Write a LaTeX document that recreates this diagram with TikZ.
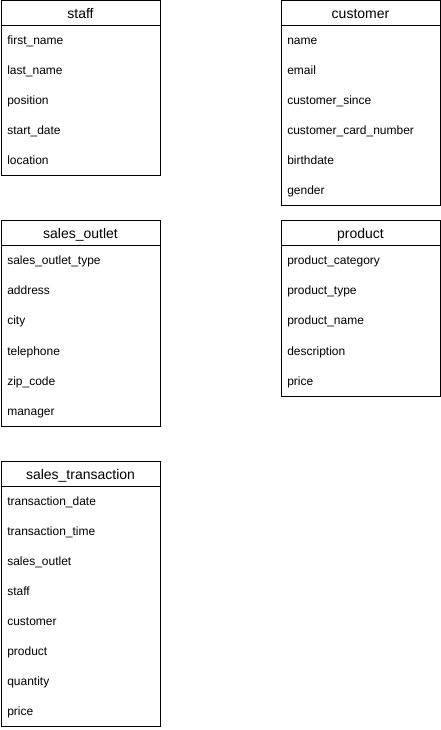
\documentclass[tikz,border=0pt]{standalone}
\usepackage{fontspec}
\setmainfont{Liberation Sans}
\usetikzlibrary{positioning}

\tikzset{
  entline/.style={line width=0.75pt},
  enttitle/.style={inner sep=0pt, anchor=base, font=\fontsize{10.5}{12}\selectfont},
  entfield/.style={inner sep=0pt, anchor=base west, font=\fontsize{9}{11}\selectfont}
}

% #1 node name, #2 title, #3 left, #4 top, #5 rows, #6 fields
\newcommand{\entity}[6]{%
  \draw[entline] (#3,#4) rectangle ++(159,{25+30*#5});
  \draw[entline] (#3,#4+25) -- ++(159,0);
  \node[enttitle] (#1) at (#3+79.5,#4+18) {#2};
  \foreach \f [count=\i] in {#6}
    \node[entfield] (#1-\i) at (#3+6,{#4+14+30*\i}) {\f};
}

\begin{document}
\begin{tikzpicture}[x=0.75pt,y=-0.75pt]
\useasboundingbox (0,0) rectangle (441,730);
\entity{staff}{staff}{1}{1}{5}{first\_name,last\_name,position,start\_date,location}
\entity{customer}{customer}{281}{1}{6}{name,email,customer\_since,customer\_card\_number,birthdate,gender}
\entity{outlet}{sales\_outlet}{1}{221}{6}{sales\_outlet\_type,address,city,telephone,zip\_code,manager}
\entity{product}{product}{281}{221}{5}{product\_category,product\_type,product\_name,description,price}
\entity{transaction}{sales\_transaction}{1}{461}{8}{transaction\_date,transaction\_time,sales\_outlet,staff,customer,product,quantity,price}
\end{tikzpicture}
\end{document}
